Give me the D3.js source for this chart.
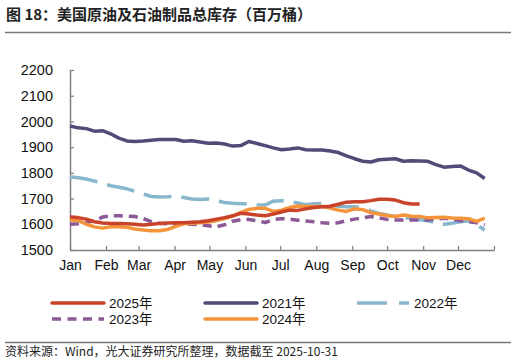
<!DOCTYPE html>
<html>
<head>
<meta charset="utf-8">
<script src="https://cdn.jsdelivr.net/npm/d3@7"></script>
<style>
  body { margin: 0; background: #fff; }
  svg { display: block; }
</style>
</head>
<body>
<div id="wrapper"></div>
<script>
// weekly total stocks, million barrels (week 0 = first week of Jan)
const v2021 = [1982, 1975, 1972, 1962, 1964, 1952, 1935, 1924, 1922, 1924, 1927, 1930, 1930,
  1930, 1923, 1925, 1920, 1915, 1916, 1912, 1904, 1906, 1922, 1914, 1906, 1897, 1890,
  1893, 1897, 1890, 1889, 1889, 1885, 1879, 1866, 1855, 1845, 1842, 1851, 1853, 1855,
  1845, 1847, 1846, 1845, 1832, 1822, 1825, 1827, 1811, 1800, 1778]
const v2022 = [1785, 1781, 1776, 1768, 1760, 1750, 1744, 1738, 1728, 1718, 1708, 1706, 1707,
  1710, 1704, 1698, 1696, 1698, 1692, 1685, 1682, 1680, 1680, 1676, 1675, 1690, 1692,
  1688, 1683, 1676, 1680, 1681, 1674, 1670, 1668, 1668, 1665, 1652, 1642, 1636, 1630,
  1626, 1622, 1618, 1614, 1606, 1600, 1604, 1610, 1614, 1598, 1578]
const v2023 = [1600, 1602, 1606, 1614, 1628, 1633, 1633, 1632, 1630, 1622, 1610, 1604, 1602,
  1603, 1602, 1600, 1598, 1594, 1590, 1598, 1612, 1618, 1619, 1614, 1607, 1618, 1622,
  1620, 1616, 1613, 1610, 1606, 1604, 1606, 1614, 1620, 1625, 1630, 1625, 1619, 1617,
  1617, 1617, 1617, 1617, 1620, 1623, 1620, 1614, 1610, 1606, 1597]
const v2024 = [1617, 1615, 1600, 1590, 1585, 1590, 1590, 1588, 1582, 1578, 1575, 1575, 1580,
  1592, 1602, 1604, 1606, 1609, 1615, 1622, 1632, 1645, 1658, 1662, 1662, 1650, 1655,
  1665, 1671, 1669, 1669, 1669, 1663, 1655, 1650, 1660, 1657, 1645, 1640, 1634, 1630,
  1636, 1631, 1630, 1625, 1626, 1627, 1624, 1623, 1622, 1611, 1624]
const v2025 = [1628, 1626, 1620, 1610, 1605, 1603, 1603, 1602, 1600, 1597, 1600, 1603, 1605,
  1606, 1606, 1608, 1610, 1614, 1620, 1626, 1633, 1643, 1640, 1636, 1633, 1640, 1648,
  1655, 1654, 1660, 1665, 1668, 1670, 1678, 1686, 1688, 1688, 1692, 1697, 1697, 1694,
  1684, 1679, 1679]

const yTicks = [1500, 1600, 1700, 1800, 1900, 2000, 2100, 2200]
const monthLabels = ["Jan", "Feb", "Mar", "Apr", "May", "Jun", "Jul", "Aug", "Sep", "Oct", "Nov", "Dec"]

const series = [
  { name: "2021年", values: v2021, color: "#4f4d78", dash: null },
  { name: "2022年", values: v2022, color: "#88b6cc", dash: "28,10" },
  { name: "2023年", values: v2023, color: "#8b5a96", dash: "9,6" },
  { name: "2024年", values: v2024, color: "#f5943b", dash: null },
  { name: "2025年", values: v2025, color: "#c9432a", dash: null },
]
const legendOrder = ["2025年", "2021年", "2022年", "2023年", "2024年"]

const width = 516
const height = 363
const cjk = "'Noto Sans CJK SC', 'Noto Sans', sans-serif"
const latin = "'Liberation Sans', Arial, 'Noto Sans CJK SC', sans-serif"

const svg = d3.select("#wrapper")
  .append("svg")
  .attr("width", width)
  .attr("height", height)

// title
svg.append("text")
  .attr("x", 6)
  .attr("y", 20)
  .text("图 18：美国原油及石油制品总库存（百万桶）")
  .style("font-family", cjk)
  .style("font-weight", "bold")
  .style("font-size", "15px")
  .attr("fill", "#222")

svg.append("line")
  .attr("x1", 5).attr("x2", 511)
  .attr("y1", 32.5).attr("y2", 32.5)
  .attr("stroke", "#777").attr("stroke-width", 1.5)

// scales
const start = new Date(2021, 0, 1)
const end = new Date(2022, 0, 1)
const xScale = d3.scaleTime().domain([start, end]).range([70, 494])
const yScale = d3.scaleLinear().domain([1500, 2200]).range([250, 70])
const weekDate = (i) => d3.timeDay.offset(start, 7 * i)

// axes
const monthTicks = d3.timeMonth.range(start, d3.timeDay.offset(end, 1))
const xAxis = d3.axisBottom(xScale)
  .tickValues(monthTicks)
  .tickSizeInner(-4)
  .tickSizeOuter(0)
  .tickPadding(10)
  .tickFormat((d) => d.getFullYear() === 2021 ? monthLabels[d.getMonth()] : "")

const xg = svg.append("g")
  .attr("transform", "translate(0,250)")
  .call(xAxis)
xg.select(".domain").attr("stroke", "#7f7f7f").attr("stroke-width", 1.5)
xg.selectAll(".tick line").attr("stroke", "#7f7f7f").attr("stroke-width", 1.2)
xg.selectAll(".tick text")
  .style("font-family", latin)
  .style("font-size", "14px")
  .attr("fill", "#111")

const yAxis = d3.axisLeft(yScale)
  .tickValues(yTicks)
  .tickSizeInner(-4)
  .tickSizeOuter(0)
  .tickPadding(17)
  .tickFormat(d3.format("d"))

const yg = svg.append("g")
  .attr("transform", "translate(70,0)")
  .call(yAxis)
yg.select(".domain").attr("stroke", "#7f7f7f").attr("stroke-width", 1.5)
yg.selectAll(".tick line").attr("stroke", "#7f7f7f").attr("stroke-width", 1.2)
yg.selectAll(".tick text")
  .style("font-family", latin)
  .style("font-size", "14.5px")
  .attr("fill", "#111")

// lines
const lineGen = d3.line()
  .x((d, i) => xScale(weekDate(i)))
  .y((d) => yScale(d))

svg.append("g")
  .selectAll("path")
  .data(series)
  .join("path")
  .attr("d", (d) => lineGen(d.values))
  .attr("fill", "none")
  .attr("stroke", (d) => d.color)
  .attr("stroke-width", 3.5)
  .attr("stroke-linejoin", "round")
  .attr("stroke-dasharray", (d) => d.dash)

// legend
const legendPos = [
  { x: 52, y: 303 }, { x: 205, y: 303 }, { x: 357, y: 303 },
  { x: 52, y: 319 }, { x: 205, y: 319 },
]
const legend = svg.append("g")
  .selectAll("g")
  .data(legendOrder.map((n) => series.find((s) => s.name === n)))
  .join("g")
  .attr("transform", (d, i) => `translate(${legendPos[i].x},${legendPos[i].y})`)

legend.append("line")
  .attr("x1", 0).attr("x2", 52)
  .attr("stroke", (d) => d.color)
  .attr("stroke-width", 3.5)
  .attr("stroke-linecap", (d) => d.dash ? "butt" : "round")
  .attr("stroke-dasharray", (d) => d.name === "2022年" ? "30,12" : d.name === "2023年" ? "9,6.5" : null)

legend.append("text")
  .attr("x", 57)
  .attr("y", 5)
  .text((d) => d.name)
  .style("font-family", latin)
  .style("font-size", "13.5px")
  .attr("fill", "#111")

// footer
svg.append("line")
  .attr("x1", 5).attr("x2", 511)
  .attr("y1", 342.5).attr("y2", 342.5)
  .attr("stroke", "#777").attr("stroke-width", 1.5)

svg.append("text")
  .attr("x", 5)
  .attr("y", 356)
  .text("资料来源：Wind，光大证券研究所整理，数据截至 2025-10-31")
  .style("font-family", cjk)
  .style("font-size", "12px")
  .attr("fill", "#222")
</script>
</body>
</html>
